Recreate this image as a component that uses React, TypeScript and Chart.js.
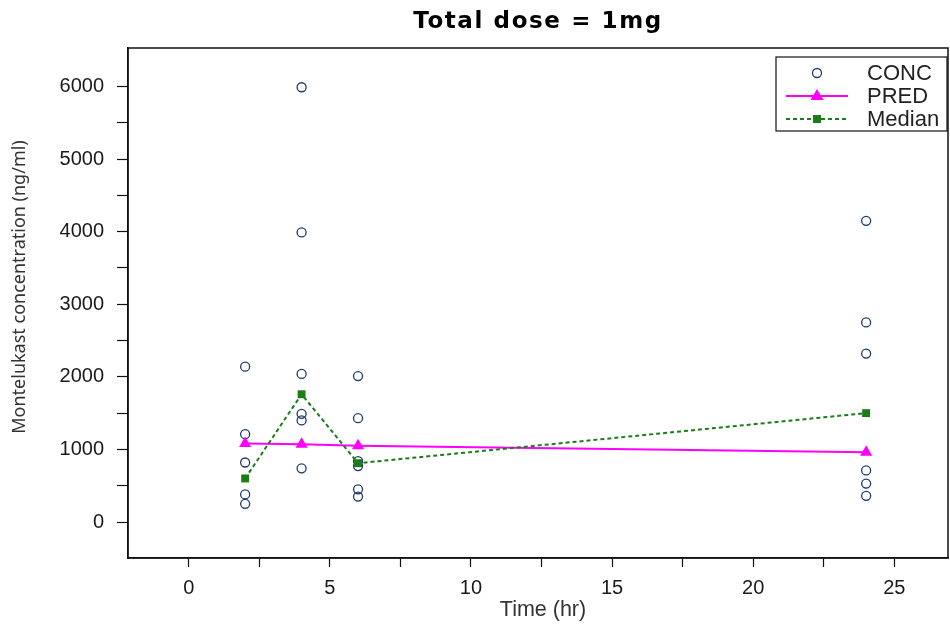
import React, { useEffect, useRef } from 'react';
import { Chart, registerables } from 'chart.js';

Chart.register(...registerables);

// ---- data ----
const concTimes = [2, 2, 2, 2, 2, 4, 4, 4, 4, 4, 4, 6, 6, 6, 6, 6, 6, 24, 24, 24, 24, 24, 24];
const concValues = [2140, 1210, 820, 380, 250, 5990, 3990, 2040, 1490, 1400, 740, 2010, 1430, 840, 770, 450, 350, 4150, 2750, 2320, 710, 530, 360];
const predTimes = [2, 4, 6, 24];
const predValues = [1080, 1070, 1050, 960];
const medianTimes = [2, 4, 6, 24];
const medianValues = [600, 1760, 810, 1500];

const xTickValues = [0, 2.5, 5, 7.5, 10, 12.5, 15, 17.5, 20, 22.5, 25];
const xLabelValues = [0, 5, 10, 15, 20, 25];
const yTickValues = [0, 500, 1000, 1500, 2000, 2500, 3000, 3500, 4000, 4500, 5000, 5500, 6000];
const yLabelValues = [0, 1000, 2000, 3000, 4000, 5000, 6000];

const legendLabels = ['CONC', 'PRED', 'Median'];
const chartTitle = 'Total dose = 1mg';
const xTitle = 'Time (hr)';
const yTitle = 'Montelukast concentration (ng/ml)';

const CONC_COLOR = '#1f3a6b';
const PRED_COLOR = '#ff00ff';
const MEDIAN_COLOR = '#1a7d1a';

const toPoints = (xs: number[], ys: number[]) => xs.map((x, i) => ({ x, y: ys[i] }));

const decorPlugin = {
  id: 'decor',
  afterDatasetsDraw(chart: any) {
    const { ctx, chartArea } = chart;
    ctx.save();
    // frame
    ctx.strokeStyle = '#111';
    ctx.lineWidth = 1.5;
    ctx.strokeRect(chartArea.left, chartArea.top, chartArea.right - chartArea.left, chartArea.bottom - chartArea.top);

    // legend
    const bx = 776, by = 57, bw = 171, bh = 74;
    ctx.fillStyle = '#fff';
    ctx.fillRect(bx, by, bw, bh);
    ctx.lineWidth = 1.2;
    ctx.strokeStyle = '#111';
    ctx.strokeRect(bx, by, bw, bh);
    const rows = [73, 96, 119];
    const sx0 = 786, sx1 = 848, sxm = 817;
    // CONC
    ctx.beginPath();
    ctx.arc(sxm, rows[0], 4.5, 0, Math.PI * 2);
    ctx.strokeStyle = CONC_COLOR;
    ctx.lineWidth = 1.3;
    ctx.stroke();
    // PRED
    ctx.beginPath();
    ctx.moveTo(sx0, rows[1]);
    ctx.lineTo(sx1, rows[1]);
    ctx.strokeStyle = PRED_COLOR;
    ctx.lineWidth = 2;
    ctx.stroke();
    ctx.beginPath();
    ctx.moveTo(sxm, rows[1] - 7);
    ctx.lineTo(sxm + 6.5, rows[1] + 4);
    ctx.lineTo(sxm - 6.5, rows[1] + 4);
    ctx.closePath();
    ctx.fillStyle = PRED_COLOR;
    ctx.fill();
    // Median
    ctx.beginPath();
    ctx.setLineDash([4, 3]);
    ctx.moveTo(sx0, rows[2]);
    ctx.lineTo(sx1, rows[2]);
    ctx.strokeStyle = MEDIAN_COLOR;
    ctx.lineWidth = 2;
    ctx.stroke();
    ctx.setLineDash([]);
    ctx.fillStyle = MEDIAN_COLOR;
    ctx.fillRect(sxm - 4, rows[2] - 4, 8, 8);
    // text
    ctx.fillStyle = '#222';
    ctx.font = '22px "Liberation Sans", Arial, sans-serif';
    ctx.textAlign = 'left';
    ctx.textBaseline = 'middle';
    legendLabels.forEach((t, i) => ctx.fillText(t, 867, rows[i] + 1));

    // title
    ctx.fillStyle = '#000';
    ctx.font = 'bold 23px "DejaVu Sans", sans-serif';
    (ctx as any).letterSpacing = '1.6px';
    ctx.textAlign = 'center';
    ctx.textBaseline = 'alphabetic';
    ctx.fillText(chartTitle, 538, 28);
    (ctx as any).letterSpacing = '0px';

    // axis titles
    ctx.fillStyle = '#333';
    ctx.font = '21.5px "Liberation Sans", Arial, sans-serif';
    ctx.textAlign = 'center';
    ctx.textBaseline = 'middle';
    ctx.fillText(xTitle, 543, 610);

    ctx.save();
    ctx.translate(20, 287);
    ctx.rotate(-Math.PI / 2);
    ctx.font = '18px "Noto Sans", sans-serif';
    ctx.fillStyle = '#333';
    ctx.textAlign = 'center';
    ctx.textBaseline = 'middle';
    ctx.fillText(yTitle, 0, 0);
    ctx.restore();

    ctx.restore();
  },
};

export default function App() {
  const ref = useRef<HTMLCanvasElement | null>(null);

  useEffect(() => {
    document.body.style.margin = '0';
    if (!ref.current) return;
    const chart = new Chart(ref.current, {
      type: 'scatter',
      data: {
        datasets: [
          {
            label: 'Median',
            data: toPoints(medianTimes, medianValues),
            showLine: true,
            borderColor: MEDIAN_COLOR,
            backgroundColor: MEDIAN_COLOR,
            borderWidth: 2,
            borderDash: [4, 3],
            pointStyle: 'rect',
            pointRadius: 5.6,
            pointBorderWidth: 0,
            pointBackgroundColor: MEDIAN_COLOR,
          },
          {
            label: 'PRED',
            data: toPoints(predTimes, predValues),
            showLine: true,
            borderColor: PRED_COLOR,
            backgroundColor: PRED_COLOR,
            borderWidth: 2,
            pointStyle: 'triangle',
            pointRadius: 7,
            pointBorderWidth: 0,
            pointBackgroundColor: PRED_COLOR,
          },
          {
            label: 'CONC',
            data: toPoints(concTimes, concValues),
            showLine: false,
            borderColor: CONC_COLOR,
            backgroundColor: 'rgba(0,0,0,0)',
            pointStyle: 'circle',
            pointRadius: 4.5,
            pointBorderWidth: 1.3,
            pointBorderColor: CONC_COLOR,
            pointBackgroundColor: 'rgba(0,0,0,0)',
          },
        ],
      },
      options: {
        responsive: false,
        animation: false,
        devicePixelRatio: 1,
        layout: { padding: { top: 48, right: 0, left: 0, bottom: 0 } },
        plugins: {
          legend: { display: false },
          title: { display: false },
          tooltip: { enabled: false },
        },
        scales: {
          x: {
            type: 'linear',
            min: -2.15,
            max: 26.9,
            afterBuildTicks: (s: any) => {
              s.ticks = xTickValues.map((v) => ({ value: v }));
            },
            afterFit: (s: any) => {
              s.height = 71;
            },
            grid: {
              display: true,
              drawOnChartArea: false,
              drawTicks: true,
              tickLength: 9,
              tickWidth: 1.2,
              tickColor: '#111',
            },
            border: { display: true, color: '#111', width: 1.5 },
            ticks: {
              autoSkip: false,
              maxRotation: 0,
              padding: 9,
              color: '#1a1a1a',
              font: { family: '"Liberation Sans", Arial, sans-serif', size: 20 },
              callback: (v: any) => (xLabelValues.includes(Number(v)) ? String(v) : ''),
            },
            title: { display: false },
          },
          y: {
            type: 'linear',
            min: -496,
            max: 6531,
            afterBuildTicks: (s: any) => {
              s.ticks = yTickValues.map((v) => ({ value: v }));
            },
            afterFit: (s: any) => {
              s.width = 128;
            },
            grid: {
              display: true,
              drawOnChartArea: false,
              drawTicks: true,
              tickLength: 11,
              tickWidth: 1.2,
              tickColor: '#111',
            },
            border: { display: true, color: '#111', width: 1.5 },
            ticks: {
              autoSkip: false,
              padding: 13,
              color: '#1a1a1a',
              font: { family: '"Liberation Sans", Arial, sans-serif', size: 20 },
              callback: (v: any) => (yLabelValues.includes(Number(v)) ? String(v) : ''),
            },
            title: { display: false },
          },
        },
      },
      plugins: [decorPlugin],
    } as any);
    return () => chart.destroy();
  }, []);

  return (
    <div style={{ width: 950, height: 629, overflow: 'hidden', background: '#fff' }}>
      <canvas ref={ref} width={955} height={629} style={{ display: 'block' }} />
    </div>
  );
}
